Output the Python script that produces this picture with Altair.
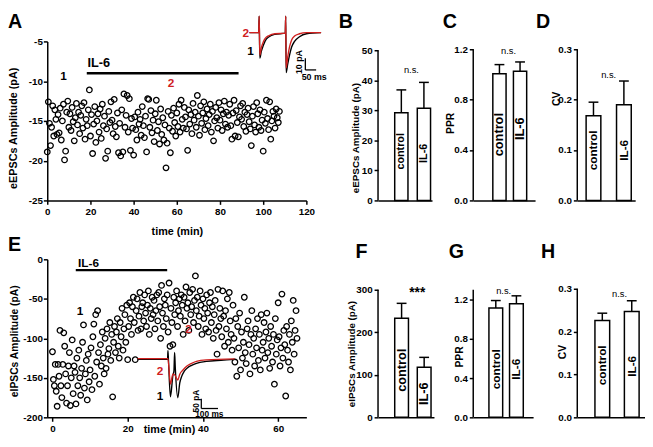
import altair as alt
import pandas as pd

FONT = "Liberation Sans"
RED = "#d0201f"

# ---------------- Panel A : eEPSC amplitude over time ----------------
a_amp = [
    -18.9, -12.6, -15.3, -18.1, -15.8, -13.1, -16.9, -13.6, -14.8, -16.7,
    -14.2, -16.5, -13.4, -17.4, -15.0, -12.9, -19.9, -18.8, -13.9, -12.5,
    -15.8, -14.1, -16.2, -13.3, -15.1, -17.5, -14.6, -12.8, -15.5, -13.9,
    -16.6, -14.3, -13.1, -15.9, -12.7, -17.3, -14.8, -15.6, -13.6, -11.1,
    -16.9, -14.2, -19.1, -15.4, -13.2, -17.7, -15.0, -14.1, -16.4, -13.5,
    -17.2, -12.9, -15.6, -14.4, -19.7, -16.0, -18.8, -13.8, -15.2, -12.6,
    -14.9, -16.6, -12.3, -15.7, -17.0, -14.0, -19.0, -15.3, -19.4, -13.6,
    -18.9, -11.6, -15.8, -14.3, -11.8, -16.4, -12.2, -18.7, -14.7, -15.9,
    -19.3, -14.5, -16.1, -17.4, -13.9, -15.4, -14.8, -16.8, -13.2, -15.6,
    -17.1, -14.4, -18.9, -12.2, -12.3, -15.8, -13.7, -16.5, -14.9, -17.6,
    -14.1, -12.4, -16.2, -15.1, -17.9, -13.5, -16.7, -14.6, -17.4, -15.5,
    -20.9, -17.8, -13.8, -15.9, -19.0, -14.3, -16.3, -13.4, -15.2, -16.9,
    -14.0, -15.7, -12.9, -16.4, -12.4, -14.8, -15.9, -13.3, -14.5, -16.0,
    -18.7, -13.6, -15.4, -14.2, -16.6, -12.8, -14.9, -13.9, -15.8, -11.8,
    -14.4, -16.8, -13.1, -15.3, -14.0, -12.6, -16.1, -14.7, -13.5, -15.6,
    -14.2, -12.9, -16.4, -13.8, -17.5, -15.0, -13.3, -14.6, -15.9, -12.7,
    -14.9, -13.6, -16.2, -14.1, -12.5, -15.4, -13.9, -15.8, -14.3, -12.9,
    -15.6, -17.3, -14.0, -12.4, -16.9, -13.7, -15.2, -17.0, -14.5, -13.1,
    -14.8, -12.8, -15.7, -13.9, -16.3, -14.2, -13.4, -15.1, -16.0, -18.1,
    -14.4, -13.2, -15.5, -16.4, -12.7, -14.1, -15.8, -13.6, -16.2, -14.9,
    -18.8, -13.9, -15.3, -12.4, -14.7, -16.1, -12.6, -17.3, -15.0, -13.8,
    -14.4, -15.9, -13.5, -14.6, -15.2, -13.8,
]
a_time = [i * 0.5 for i in range(len(a_amp))]   # one sweep every 30 s
a_il6 = [18.3, 88.6]

# inset A traces (ms, pA)
a_tr_ms = [0, 43, 45, 48, 55, 64, 73, 91, 118, 166, 168, 170, 177, 186, 195, 209, 232, 264, 332]
a_tr_ctrl = [0, 0, 14, -21.7, -16, -11, -7, -3.5, -1.5, -0.5, 14, -34, -27, -19, -12.5, -7.5, -3.5, -1, 0]
a_tr_il6 = [0, 0, 14, -19, -13, -8, -5, -2.5, -1, -0.5, 14, -30, -21, -12, -6.5, -3, -1, 0, 0]

# ---------------- Panel E : eIPSC amplitude over time ----------------
e_amp = [
    -117, -152, -160, -133,  -167, -186, -133, -148,  -90, -160, -175, -133,
    -93, -110, -145, -182,  -160, -135, -118, -185,  -150, -102, -170, -135,
    -143, -183, -125, -160,  -115, -150, -172, -138,  -105, -83, -163, -145,
    -128, -178, -120, -155,  -140, -112, -165, -98,  -82, -148, -70, -130,
    -65, -118, -158, -108,  -135, -92, -125, -145,  -100, -138, -88, -120,
    -113, -80, -128, -95,  -174, -105, -85, -118,  -92, -75, -110, -125,
    -80, -98, -62, -115,  -88, -70, -105, -58,  -127, -85, -55, -75,
    -95, -60, -48, -80,  -127, -65, -50, -90,  -72, -42, -88, -60,
    -55, -78, -45, -68,  -85, -58, -40, -95,  -62, -75, -48, -70,
    -52, -88, -65, -45,  -78, -42, -60, -100,  -33, -68, -85, -50,
    -58, -75, -45, -92,  -30, -110, -62, -80,  -108, -48, -70, -55,
    -40, -85, -65, -50,  -72, -45, -58, -95,  -48, -78, -35, -62,
    -55, -90, -42, -70,  -60, -38, -80, -52,  -21, -65, -48, -85,
    -72, -40, -58, -95,  -50, -75, -62, -88,  -45, -68, -92, -55,
    -42, -80, -60, -100,  -70, -52, -90, -120,  -38, -85, -62, -75,
    -98, -40, -72, -110,  -65, -88, -50, -105,  -42, -78, -95, -115,
    -58, -100, -130, -75,  -148, -85, -112, -68,  -140, -92, -125, -105,
    -48, -118, -132, -88,  -78, -108, -145, -95,  -65, -120, -100, -135,
    -88, -112, -75, -128,  -95, -140, -70, -115,  -105, -80, -125, -92,
    -68, -118, -100, -138,  -85, -110, -130, -95,  -158, -75, -120, -102,
    -55, -98, -135, -112,  -44, -125, -90, -108,  -173, -85, -115, -130,
    -95, -140, -78, -105,  -52, -120, -90, -65,  -100,
]
e_time = [i * 0.25 for i in range(len(e_amp))]  # one sweep every 15 s
e_il6 = [6.2, 30.5]

# inset E traces (ms, pA)
e_tr_ctrl_ms = [0, 180, 182, 185, 197, 212, 218, 222, 226, 241, 253, 265, 280, 300, 324, 353, 412, 500, 582]
e_tr_ctrl = [0, 0, 45, 0, -190, -80, -60, 35, -40, -195, -120, -85, -60, -42, -30, -20, -10, -4, 0]
e_tr_il6_ms = [0, 182, 197, 212, 224, 241, 253, 271, 294, 324, 353, 412, 582]
e_tr_il6 = [4, 4, -125, -75, -80, -105, -75, -55, -35, -20, -10, -2, 3]

# ---------------- Bar panels ----------------
conds = ["control", "IL-6"]
b_mean, b_top = [29.2, 30.7], [36.8, 39.3]          # eEPSC amplitude (pA)
c_mean, c_top = [1.005, 1.025], [1.078, 1.099]      # PPR
d_mean, d_top = [0.168, 0.19], [0.195, 0.237]       # CV
f_mean, f_top = [233, 118], [268, 141]              # eIPSC amplitude (pA)
g_mean, g_top = [1.114, 1.158], [1.19, 1.238]       # PPR
h_mean, h_top = [0.226, 0.247], [0.243, 0.272]      # CV


def one(**cols):
    return pd.DataFrame({k: [v] for k, v in cols.items()})


def letter(ch, dx, dy):
    return alt.Chart(one(l=ch)).mark_text(
        align="left", baseline="top", fontSize=20, fontWeight="bold", font=FONT, color="black"
    ).encode(x=alt.value(dx), y=alt.value(dy), text="l:N")


def label(df, xs, ys, xax, yax, size, color="black", align="center"):
    return alt.Chart(df).mark_text(
        align=align, baseline="middle", fontSize=size, fontWeight="bold", font=FONT, color=color
    ).encode(x=alt.X("x:Q", scale=xs, axis=xax), y=alt.Y("y:Q", scale=ys, axis=yax), text="t:N")


def scatter_panel(time, amp, xdom, ydom, xvals, yvals, ytitle, ytx, yty, ytsize, xtx, xty,
                  xlabpad, il6, il6_y, il6_txt, lab1, lab2, let):
    xs = alt.Scale(domain=xdom, nice=False, zero=False)
    ys = alt.Scale(domain=ydom, nice=False, zero=False)
    xax = alt.Axis(values=xvals, title="time (min)", titleX=xtx, titleY=xty, titleBaseline="middle",
                   titleAlign="center", titleFontSize=11, labelFontSize=10, labelPadding=xlabpad,
                   labelFlush=False)
    yax = alt.Axis(values=yvals, labelExpr="datum.value + ''", title=ytitle, titleX=ytx, titleY=yty,
                   titleAngle=270, titleBaseline="middle", titleAlign="center", titleFontSize=ytsize,
                   labelFontSize=10, labelPadding=1)
    df = pd.DataFrame({"time": time, "amp": amp})
    pts = alt.Chart(df).mark_point(
        shape="circle", filled=False, size=32, strokeWidth=1.3, color="black", opacity=1
    ).encode(x=alt.X("time:Q", scale=xs, axis=xax), y=alt.Y("amp:Q", scale=ys, axis=yax))
    bar = alt.Chart(one(t0=il6[0], t1=il6[1], y=il6_y)).mark_rule(
        color="black", strokeWidth=2.5
    ).encode(x=alt.X("t0:Q", scale=xs, axis=xax), x2="t1:Q", y=alt.Y("y:Q", scale=ys, axis=yax))
    t_il6 = label(one(x=il6_txt[0], y=il6_txt[1], t="IL-6"), xs, ys, xax, yax, il6_txt[2], align="left")
    t1 = label(one(x=lab1[0], y=lab1[1], t="1"), xs, ys, xax, yax, 12)
    t2 = label(one(x=lab2[0], y=lab2[1], t="2"), xs, ys, xax, yax, 12, color=RED)
    return alt.layer(pts, bar, t_il6, t1, t2, letter(let[0], let[1], let[2]))


def inset(ctrl_ms, ctrl, il6_ms, il6, xdom, xrange, ydom, yrange, sb, sb_txt, labs, sbsize):
    xs = alt.Scale(domain=xdom, range=xrange, nice=False, zero=False)
    ys = alt.Scale(domain=ydom, range=yrange, nice=False, zero=False)
    enc = dict(x=alt.X("ms:Q", scale=xs, axis=None), y=alt.Y("pA:Q", scale=ys, axis=None))
    black = alt.Chart(pd.DataFrame({"ms": ctrl_ms, "pA": ctrl})).mark_line(
        color="black", strokeWidth=1.4, interpolate="monotone").encode(**enc)
    red = alt.Chart(pd.DataFrame({"ms": il6_ms, "pA": il6})).mark_line(
        color=RED, strokeWidth=1.4, interpolate="monotone").encode(**enc)
    sv = alt.Chart(one(x=sb[0], y1=sb[1], y2=sb[2])).mark_rule(color="black", strokeWidth=1.3).encode(
        x=alt.X("x:Q", scale=xs, axis=None), y=alt.Y("y1:Q", scale=ys, axis=None), y2="y2:Q")
    sh = alt.Chart(one(x1=sb[0], x2=sb[3], y=sb[2])).mark_rule(color="black", strokeWidth=1.3).encode(
        x=alt.X("x1:Q", scale=xs, axis=None), x2="x2:Q", y=alt.Y("y:Q", scale=ys, axis=None))
    tv = alt.Chart(one(x=sb_txt[0][0], y=sb_txt[0][1], t=sb_txt[0][2])).mark_text(
        angle=270, baseline="middle", align="center", fontSize=sbsize, fontWeight="bold", font=FONT,
        color="black").encode(x=alt.X("x:Q", scale=xs, axis=None), y=alt.Y("y:Q", scale=ys, axis=None),
                              text="t:N")
    th = alt.Chart(one(x=sb_txt[1][0], y=sb_txt[1][1], t=sb_txt[1][2])).mark_text(
        baseline="middle", align="center", fontSize=sbsize, fontWeight="bold", font=FONT,
        color="black").encode(x=alt.X("x:Q", scale=xs, axis=None), y=alt.Y("y:Q", scale=ys, axis=None),
                              text="t:N")
    l1 = label(one(x=labs[0][0], y=labs[0][1], t="1"), xs, ys, None, None, 12)
    l2 = label(one(x=labs[1][0], y=labs[1][1], t="2"), xs, ys, None, None, 12, color=RED, align=labs[1][2])
    return alt.layer(black, red, sv, sh, tv, th, l1, l2)


def bar_panel(mean, top, w, h, ymax, axis_top, ticks, fmt, title, tx, ty, tsize, pi, po, al,
              lbl_y, lbl_size, note, nx, ny, nsize, nweight, nbase, let, lpad=2):
    df = pd.DataFrame({"cond": conds, "mean": mean, "top": top})
    xs = alt.Scale(domain=conds, paddingInner=pi, paddingOuter=po, align=al)
    ys = alt.Scale(domain=[0, ymax], nice=False, zero=True)
    xax = alt.Axis(labels=False, ticks=False, title=None)
    yax = alt.Axis(values=ticks, format=fmt, domain=False, title=title, titleX=tx, titleY=ty,
                   titleAngle=270, titleBaseline="middle", titleAlign="center", titleFontSize=tsize,
                   labelFontSize=10, labelPadding=lpad)
    xe = alt.X("cond:N", scale=xs, sort=conds, axis=xax)
    base = alt.Chart(df)
    bars = base.mark_bar(fill="white", stroke="black", strokeWidth=1.5).encode(
        x=xe, y=alt.Y("mean:Q", scale=ys, axis=yax))
    err = base.mark_rule(color="black", strokeWidth=1.5).encode(
        x=xe, y=alt.Y("mean:Q", scale=ys, axis=yax), y2="top:Q")
    cap = base.mark_tick(color="black", thickness=1.5, size=10, opacity=1).encode(
        x=xe, y=alt.Y("top:Q", scale=ys, axis=yax))
    lbls = []
    for c, py in zip(conds, lbl_y):
        lbls.append(base.transform_filter(alt.datum.cond == c).mark_text(
            angle=270, align="center", baseline="middle", fontSize=lbl_size, fontWeight="bold",
            font=FONT, color="black").encode(x=xe, y=alt.value(py), text="cond:N"))
    nt = alt.Chart(one(y=ny, t=note)).mark_text(
        align="center", baseline=nbase, fontSize=nsize, fontWeight=nweight, font=FONT, color="black"
    ).encode(x=alt.value(nx), y=alt.Y("y:Q", scale=ys, axis=yax), text="t:N")
    yline = alt.Chart(one(lo=0, hi=axis_top)).mark_rule(color="black", strokeWidth=1.5).encode(
        x=alt.value(0), y=alt.Y("lo:Q", scale=ys, axis=yax), y2="hi:Q")
    return alt.layer(bars, err, cap, *lbls, nt, yline, letter(let[0], let[1], let[2])).properties(
        width=w, height=h)


def spacer(w, h):
    return alt.Chart(one(v=0)).mark_point(opacity=0).encode(
        x=alt.X("v:Q", axis=None), y=alt.Y("v:Q", axis=None)).properties(width=w, height=h)


# ----- A -----
A_main = scatter_panel(a_time, a_amp, [0, 120], [-25, -5], list(range(0, 121, 20)),
                       [-25, -20, -15, -10, -5], "eEPSCs Amplitude (pA)", -34, 88, 11, 132, 32, 2,
                       a_il6, -9, (18.6, -7.7, 13), (7.5, -9.3), (57.3, -10.2), ("A", -40, -30))
A_ins = inset(a_tr_ms, a_tr_ctrl, a_tr_ms, a_tr_il6, [0, 332], [206, 279], [-40, 20], [39, -33],
              (259, -21.7, -31.7, 309), ((232, -25, "10 pA"), (300, -38, "50 ms")),
              ((5, -16), (-2, 0, "right")), 9)
panelA = alt.layer(A_main, A_ins).resolve_scale(x="independent", y="independent").properties(
    width=264, height=162)

# ----- E -----
E_main = scatter_panel(e_time, e_amp, [-1.38, 67.5], [-200, 0], [0, 20, 40, 60],
                       [-200, -150, -100, -50, 0], "eIPSCs Amplitude (pA)", -33, 83, 10.5, 124, 12, 2,
                       e_il6, -13.7, (6.8, -5, 12), (7.3, -66), (36.2, -88), ("E", -40, -24))
E_ins = inset(e_tr_ctrl_ms, e_tr_ctrl, e_tr_il6_ms, e_tr_il6, [0, 600], [92, 194], [-250, 50], [152, 92],
              (382, -200, -250, 482), ((350, -212, "50 pA"), (430, -277, "100 ms")),
              ((135, -185), (135, -60, "center")), 8.5)
panelE = alt.layer(E_main, E_ins).resolve_scale(x="independent", y="independent").properties(
    width=264, height=161)

# ----- bars -----
panelB = bar_panel(b_mean, b_top, 55, 162, 52.94, 50, [0, 10, 20, 30, 40, 50], "d",
                   "eEPSCs Amplitude (pA)", -23, 98, 10, 0.413, 0.402, 0.919, [112, 114], 11,
                   "n.s.", 34, 43.5, 9.5, "normal", "middle", ("B", -40, -30))
panelC = bar_panel(c_mean, c_top, 63, 162, 1.262, 1.2, [0, 0.4, 0.8, 1.2], ".1f",
                   "PPR", -23, 83, 10.5, 0.357, 0.679, 0.70, [95, 89], 13,
                   "n.s.", 36, 1.184, 9.5, "normal", "middle", ("C", -31, -30))
panelD = bar_panel(d_mean, d_top, 59, 162, 0.3156, 0.3, [0, 0.1, 0.2, 0.3], ".1f",
                   "CV", -21, 58, 10.5, 0.516, 0.21, 0.692, [111, 111], 12,
                   "n.s.", 32, 0.249, 9.5, "normal", "middle", ("D", -42, -30))
panelF = bar_panel(f_mean, f_top, 57, 161, 371.5, 300, [0, 100, 200, 300], "d",
                   "eIPSCs Amplitude (pA)", -27, 96, 10, 0.391, 0.435, 0.85, [113, 137], 13,
                   "***", 40, 308, 14, "bold", "top", ("F", -23, -17))
panelG = bar_panel(g_mean, g_top, 61, 161, 1.61, 1.3, [0, 0.4, 0.8, 1.2], ".1f",
                   "PPR", -14, 99, 10.5, 0.333, 0.619, 0.615, [112, 112], 12,
                   "n.s.", 31, 1.29, 9.5, "normal", "middle", ("G", -25, -17))
panelH = bar_panel(h_mean, h_top, 69, 161, 0.3687, 0.3, [0, 0.1, 0.2, 0.3], ".1f",
                   "CV", -15, 94, 10.5, 0.5, 0.4, 0.75, [108, 109], 12,
                   "n.s.", 43, 0.288, 9.5, "normal", "middle", ("H", -37, -17))

chart = alt.concat(
    panelA, spacer(73, 162), panelB, spacer(39, 162), panelC, spacer(43, 162), panelD,
    panelE, spacer(73, 161), panelF, spacer(40, 161), panelG, spacer(32, 161), panelH,
    columns=7, spacing={"row": 60, "column": 0}, bounds="flush", align="none", padding=0,
).configure_view(stroke=None).configure_axis(
    labelFont=FONT, titleFont=FONT, labelFontWeight="bold", titleFontWeight="bold",
    labelColor="black", titleColor="black", domainColor="black", tickColor="black",
    domainWidth=1.5, tickWidth=1.5, tickSize=4, grid=False,
).configure_text(font=FONT)

chart.save("out.html", embed_options={"renderer": "svg", "actions": False})
